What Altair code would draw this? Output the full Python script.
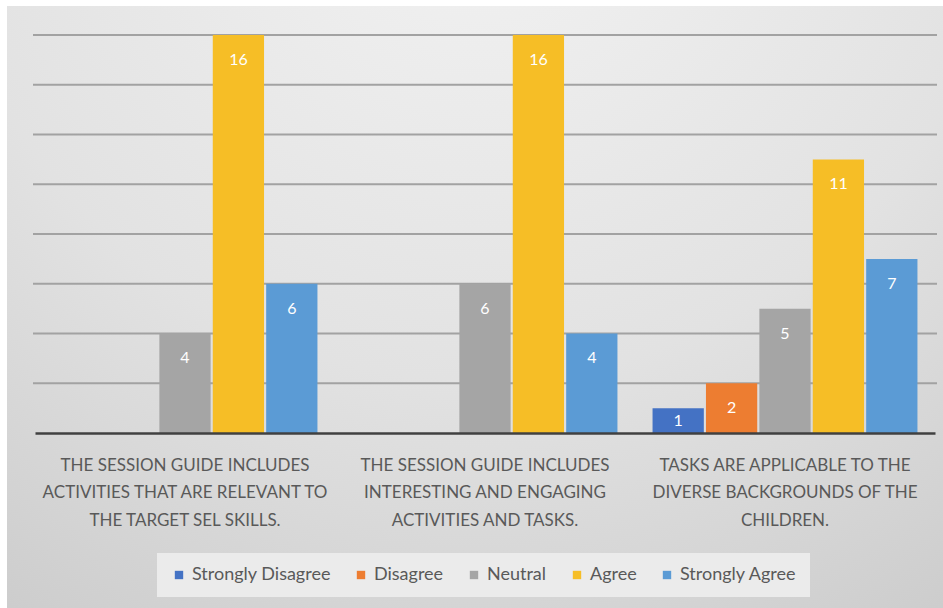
import altair as alt
import pandas as pd

# Survey statements (axis labels, "|" marks a line break)
statements = [
    "THE SESSION GUIDE INCLUDES|ACTIVITIES THAT ARE RELEVANT TO|THE TARGET SEL SKILLS.",
    "THE SESSION GUIDE INCLUDES|INTERESTING AND ENGAGING|ACTIVITIES AND TASKS.",
    "TASKS ARE APPLICABLE TO THE|DIVERSE BACKGROUNDS OF THE|CHILDREN.",
]
responses = ["Strongly Disagree", "Disagree", "Neutral", "Agree", "Strongly Agree"]
response_colors = ["#4472C4", "#ED7D31", "#A5A5A5", "#F6BE26", "#5B9BD5"]

# Number of respondents per statement, one list per response level
strongly_disagree = [0, 0, 1]
disagree = [0, 0, 2]
neutral = [4, 6, 5]
agree = [16, 16, 11]
strongly_agree = [6, 4, 7]

# Horizontal gridline positions
grid_values = [2, 4, 6, 8, 10, 12, 14, 16]

rows = []
for series, counts in zip(responses, [strongly_disagree, disagree, neutral, agree, strongly_agree]):
    for stmt, n in zip(statements, counts):
        rows.append({"statement": stmt, "response": series, "count": n})
df = pd.DataFrame(rows)
grid_df = pd.DataFrame({"g": grid_values})

FONT = "Arial Narrow, Liberation Sans Narrow, Lato, sans-serif"
TEXT = "#595959"

x_enc = alt.X(
    "statement:N",
    sort=statements,
    scale=alt.Scale(paddingInner=0.117, paddingOuter=0.0585),
    axis=alt.Axis(
        title=None,
        labelExpr="split(datum.label, '|')",
        labelAngle=0,
        labelFont=FONT,
        labelFontSize=17,
        labelColor=TEXT,
        labelLineHeight=27.5,
        labelPadding=24,
        labelLimit=400,
        ticks=False,
        domainColor="#404040",
        domainWidth=2.5,
        grid=False,
        zindex=1,
    ),
)
xoff_enc = alt.XOffset(
    "response:N", sort=responses, scale=alt.Scale(paddingInner=0.04, paddingOuter=0)
)
y_scale = alt.Scale(domain=[0, 16], nice=False)

# Soft radial backdrop behind the whole figure
backdrop = alt.Chart(alt.Data(values=[{}])).mark_rect(
    color={
        "gradient": "radial",
        "x1": 0.5, "y1": 0.0, "r1": 0.0,
        "x2": 0.5, "y2": 0.0, "r2": 1.05,
        "stops": [
            {"offset": 0.0, "color": "#f4f4f4"},
            {"offset": 0.55, "color": "#e2e2e2"},
            {"offset": 1.0, "color": "#c8c8c8"},
        ],
    }
).encode(
    x=alt.value(-28), x2=alt.value(908), y=alt.value(-29), y2=alt.value(573)
)

gridlines = alt.Chart(grid_df).mark_rule(color="#a2a2a2", strokeWidth=2).encode(
    y=alt.Y("g:Q", scale=y_scale, axis=None),
    x=alt.value(-2),
    x2=alt.value(902),
)

bars = alt.Chart(df).mark_bar().encode(
    x=x_enc,
    xOffset=xoff_enc,
    y=alt.Y("count:Q", scale=y_scale, axis=None),
    color=alt.Color(
        "response:N",
        sort=responses,
        scale=alt.Scale(domain=responses, range=response_colors),
        legend=alt.Legend(
            title=None,
            orient="none",
            direction="horizontal",
            legendX=122,
            legendY=518,
            symbolType="square",
            symbolSize=70,
            symbolStrokeWidth=0,
            labelFont=FONT,
            labelFontSize=18,
            labelColor=TEXT,
            columnPadding=21,
            fillColor="#ebebeb",
            padding=13,
        ),
    ),
)

labels = alt.Chart(df).transform_filter("datum.count > 0").transform_calculate(
    pos="datum.count >= 2 ? datum.count - 1 : datum.count / 2"
).mark_text(
    font=FONT, fontSize=16, color="#ffffff", baseline="middle"
).encode(
    x=alt.X("statement:N", sort=statements),
    xOffset=xoff_enc,
    y=alt.Y("pos:Q", scale=y_scale),
    text=alt.Text("count:Q"),
)

chart = alt.layer(backdrop, gridlines, bars, labels).properties(
    width=900,
    height=398,
    autosize=alt.AutoSizeParams(type="none"),
    padding={"left": 35, "top": 35, "right": 8, "bottom": 175},
    background="#ffffff",
).configure_view(stroke=None)

chart.save("out.html", embed_options={"renderer": "svg", "actions": False})
